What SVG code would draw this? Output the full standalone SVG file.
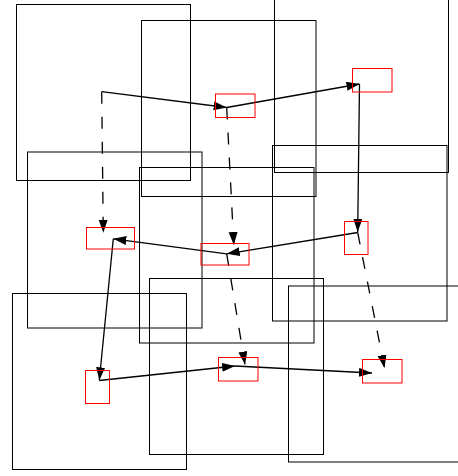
<svg xmlns="http://www.w3.org/2000/svg" width="458" height="476" viewBox="0 0 458 476">
<style>
.box{fill:none;stroke:#000;stroke-width:1}
.node{fill:none;stroke:#f00;stroke-width:1}
.edge{fill:none;stroke:#000;stroke-width:1.3}
.dash{stroke-dasharray:12 13}
</style>
<defs>
<marker id="arr" markerUnits="userSpaceOnUse" markerWidth="14" markerHeight="10" refX="13" refY="4.5" orient="auto">
<path d="M0,0 L13,4.5 L0,9 z" fill="#000"/>
</marker>
</defs>
<rect width="458" height="476" fill="#fff"/>
<g id="frames">
<rect class="box" x="16.5" y="4.5" width="174" height="176"/>
<rect class="box" x="141.5" y="20.5" width="174.5" height="176"/>
<rect class="box" x="274.5" y="-3.5" width="174" height="176"/>
<rect class="box" x="27.5" y="152" width="174.5" height="176"/>
<rect class="box" x="139.5" y="167.5" width="174.5" height="175.5"/>
<rect class="box" x="272.5" y="145.5" width="174.5" height="175.5"/>
<rect class="box" x="12.5" y="293.5" width="174" height="176"/>
<rect class="box" x="149.5" y="278.5" width="174" height="176"/>
<rect class="box" x="288.5" y="286" width="174" height="176"/>
</g>
<g id="connectors">
<path class="edge" d="M101.7,91.7 L226.7,107.5" marker-end="url(#arr)"/>
<path class="edge dash" d="M101.7,91.7 L103.3,232.7" marker-end="url(#arr)"/>
<path class="edge" d="M226.7,107.5 L359.5,84" marker-end="url(#arr)"/>
<path class="edge dash" d="M226.7,107.5 L233.8,245" marker-end="url(#arr)"/>
<path class="edge" d="M359.5,84 L357.7,232" marker-end="url(#arr)"/>
<path class="edge" d="M357.7,232.5 L226.7,253.8" marker-end="url(#arr)"/>
<path class="edge dash" d="M357.7,232.5 L384.5,368" marker-end="url(#arr)"/>
<path class="edge" d="M226.7,253.8 L113.3,238.8" marker-end="url(#arr)"/>
<path class="edge dash" d="M226.7,253.8 L245,364.5" marker-end="url(#arr)"/>
<path class="edge" d="M113.3,238.8 L99.3,380.3" marker-end="url(#arr)"/>
<path class="edge" d="M99.3,380.5 L235,366" marker-end="url(#arr)"/>
<path class="edge" d="M235,366 L372,373" marker-end="url(#arr)"/>
</g>
<g id="nodeA"><rect class="node" x="215.5" y="94" width="39.5" height="23.5"/></g>
<g id="nodeB"><rect class="node" x="352.5" y="68.5" width="39.5" height="23.5"/></g>
<g id="nodeC"><rect class="node" x="86.5" y="227.5" width="48" height="21.5"/></g>
<g id="nodeD"><rect class="node" x="201" y="243.5" width="48" height="21.5"/></g>
<g id="nodeE"><rect class="node" x="344.5" y="221.5" width="23.5" height="33"/></g>
<g id="nodeF"><rect class="node" x="85.5" y="370.5" width="24" height="33"/></g>
<g id="nodeG"><rect class="node" x="218.5" y="357.5" width="39.5" height="23.5"/></g>
<g id="nodeH"><rect class="node" x="362.5" y="359.5" width="39.5" height="23.5"/></g>
</svg>
